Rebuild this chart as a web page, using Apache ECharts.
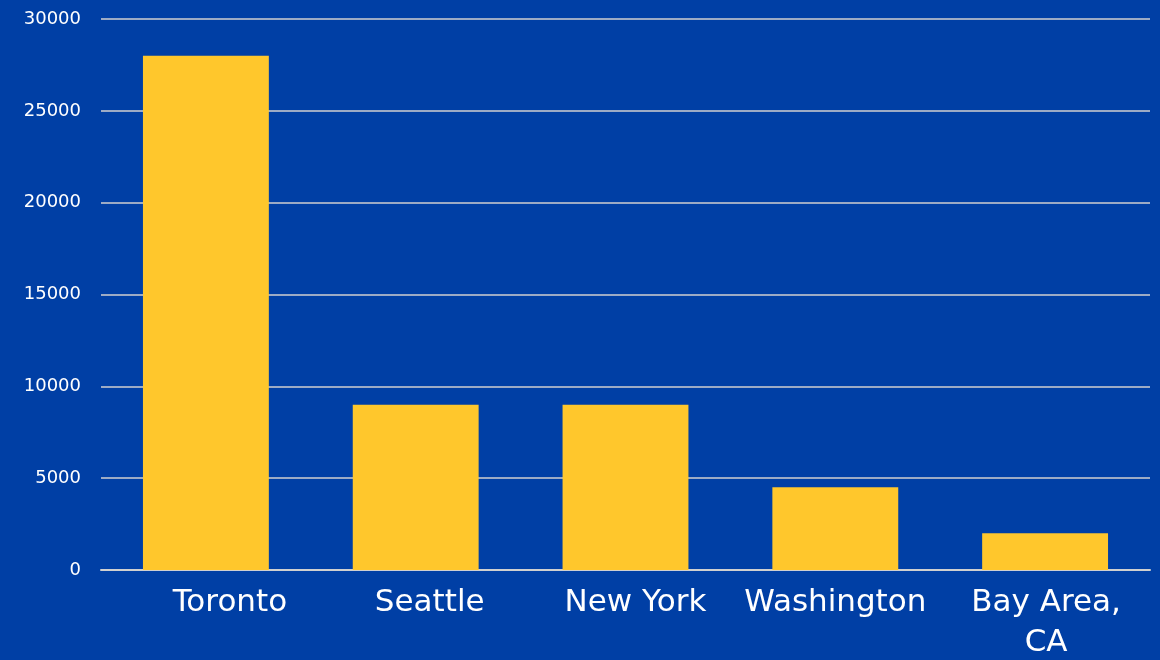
<!DOCTYPE html>
<html><head><meta charset="utf-8">
<script src="https://cdn.jsdelivr.net/npm/echarts@6/dist/echarts.min.js"></script>
<style>html,body{margin:0;padding:0;background:#003FA5;}#c{width:1160px;height:660px;}</style>
</head><body><div id="c"></div>
<script>
const categories = ["Toronto", "Seattle", "New York", "Washington", "Bay Area,\nCA"];
const values = [28000, 9000, 9000, 4500, 2000];
const yTicks = { min: 0, max: 30000, interval: 5000 };

// small horizontal label nudges seen in the reference (style only)
const labelNudge = [48, 28, 20, 0, 2];

const chart = echarts.init(document.getElementById('c'));
chart.setOption({
  backgroundColor: '#003FA5',
  animation: false,
  grid: { left: 101, right: 10, top: 19, bottom: 90, containLabel: false, outerBoundsMode: 'none' },
  xAxis: {
    type: 'category',
    data: categories.map((c, i) => ({ value: c, textStyle: { padding: [0, 0, 0, labelNudge[i]] } })),
    axisLine: { show: true, lineStyle: { color: '#D0D0D0', width: 2 } },
    axisTick: { show: false },
    axisLabel: { color: '#FFFFFF', fontFamily: 'DejaVu Sans', fontSize: 31, margin: 13, lineHeight: 40, interval: 0 }
  },
  yAxis: {
    type: 'value',
    min: yTicks.min, max: yTicks.max, interval: yTicks.interval,
    axisLine: { show: false },
    axisTick: { show: false },
    axisLabel: { color: '#FFFFFF', fontFamily: 'DejaVu Sans', fontSize: 18, margin: 20, formatter: v => String(v) },
    splitLine: { lineStyle: { color: '#D0D0D0', width: 1.5 } }
  },
  series: [{
    type: 'bar',
    data: values,
    barCategoryGap: '40%',
    itemStyle: { color: '#FFC72C' }
  }]
});
</script></body></html>
